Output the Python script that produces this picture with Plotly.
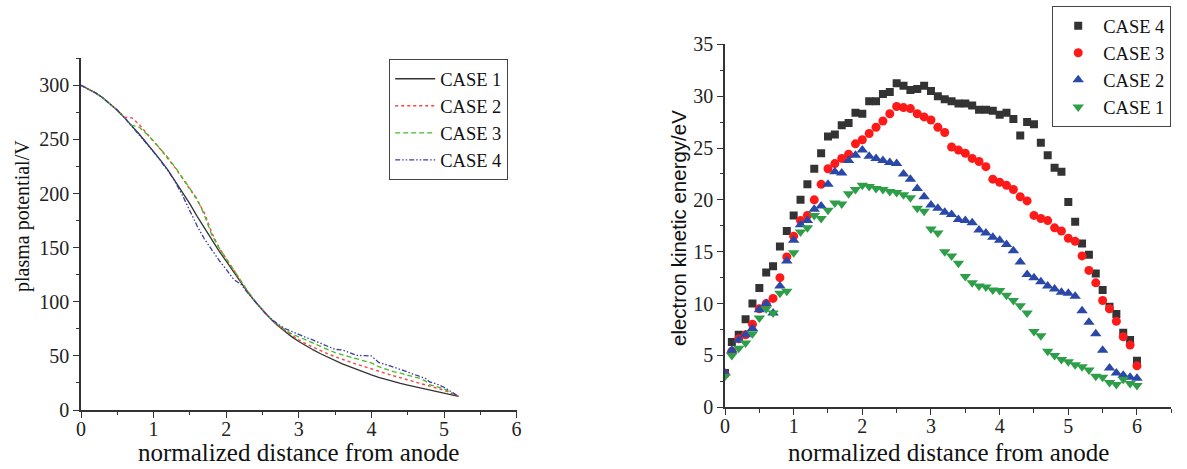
import plotly.graph_objects as go

# ---------------- Left panel: plasma potential ----------------
x_c1 = [0.0, 0.1, 0.2, 0.3, 0.4, 0.5, 0.6, 0.7, 0.8, 0.9, 1.0, 1.1, 1.2, 1.3, 1.4, 1.5, 1.6, 1.7, 1.8, 1.9,
        2.0, 2.1, 2.2, 2.3, 2.4, 2.5, 2.6, 2.7, 2.8, 2.9, 3.0, 3.1, 3.2, 3.3, 3.4, 3.5, 3.6, 3.7, 3.8, 3.9,
        4.0, 4.1, 4.2, 4.3, 4.4, 4.5, 4.6, 4.7, 4.8, 4.9, 5.0, 5.1, 5.2]
v_c1 = [300, 296.8, 293, 288.5, 283, 277, 270, 262.8, 255, 247, 239, 230.5, 221.5, 211.5, 201.5, 190.5, 179, 168,
        157, 147, 137.5, 127.5, 117.5, 108.5, 100, 92, 85, 78.5, 73, 67.8, 63.3, 59.2, 55.5, 52, 48.8, 45.6,
        42.7, 40, 37.3, 34.8, 32.4, 30.2, 28.2, 26.3, 24.6, 23, 21.4, 19.8, 18.3, 16.8, 15.4, 13.9, 12.5]

x_c2 = [0.0, 0.1, 0.2, 0.3, 0.4, 0.5, 0.6, 0.7, 0.8, 0.9, 1.0, 1.1, 1.2, 1.3, 1.4, 1.5, 1.6, 1.7, 1.8, 1.9,
        2.0, 2.1, 2.2, 2.3, 2.4, 2.5, 2.6, 2.7, 2.8, 2.9, 3.0, 3.1, 3.2, 3.3, 3.4, 3.5, 3.6, 3.7, 3.8, 3.9,
        4.0, 4.1, 4.2, 4.3, 4.4, 4.5, 4.6, 4.7, 4.8, 4.9, 5.0, 5.1, 5.2]
v_c2 = [300, 296.8, 293, 288.5, 283, 277, 270.5, 270, 264, 255.5, 248, 240.5, 232.5, 223.5, 214, 204, 194, 182,
        164, 150, 139.5, 129, 118.5, 109, 100.5, 92.5, 85, 79, 74, 69, 64.8, 61, 57.8, 54.7, 51.8, 49.3,
        46.8, 44.5, 42.2, 40.2, 38.3, 36, 33.8, 31.7, 29.7, 27.8, 26, 24.2, 22.2, 20.3, 18.3, 15.5, 12.7]

x_c3 = [0.0, 0.1, 0.2, 0.3, 0.4, 0.5, 0.6, 0.7, 0.8, 0.9, 1.0, 1.1, 1.2, 1.3, 1.4, 1.5, 1.6, 1.7, 1.8, 1.9,
        2.0, 2.1, 2.2, 2.3, 2.4, 2.5, 2.6, 2.7, 2.8, 2.9, 3.0, 3.1, 3.2, 3.3, 3.4, 3.5, 3.6, 3.7, 3.8, 3.9,
        4.0, 4.1, 4.2, 4.3, 4.4, 4.5, 4.6, 4.7, 4.75, 4.8, 4.9, 5.0, 5.1, 5.2]
v_c3 = [300, 296.8, 293, 288.5, 283, 277, 270, 263, 261.5, 255.5, 248.5, 241, 233, 224, 214.5, 205, 195, 180,
        162, 150, 140, 129.5, 119, 109.5, 100.5, 92.5, 85, 79.5, 74.5, 70.5, 67.5, 64.5, 61.5, 58.5, 55.5, 53,
        51, 49, 47, 45, 43.5, 40, 37.5, 35.5, 34, 32.5, 30.5, 28.5, 26.5, 23.5, 21.5, 19.5, 16, 12.7]

x_c4 = [0.0, 0.1, 0.2, 0.3, 0.4, 0.5, 0.6, 0.7, 0.8, 0.9, 1.0, 1.1, 1.2, 1.3, 1.4, 1.5, 1.6, 1.7, 1.8, 1.9,
        2.0, 2.1, 2.15, 2.2, 2.3, 2.4, 2.5, 2.6, 2.7, 2.8, 2.9, 3.0, 3.1, 3.2, 3.3, 3.4, 3.5, 3.6, 3.7, 3.8,
        3.9, 4.0, 4.05, 4.1, 4.2, 4.3, 4.4, 4.5, 4.6, 4.7, 4.75, 4.8, 4.9, 5.0, 5.1, 5.2]
v_c4 = [300, 296.8, 293, 288.5, 283, 277, 270, 262.5, 254.5, 246.5, 238.5, 230, 221, 210.5, 198, 184, 170, 158,
        148, 138.5, 130, 121, 118.5, 116.5, 108, 100, 92, 85.5, 80, 75.5, 72.5, 70, 67, 64.5, 61.5, 58.5,
        56, 55.5, 53, 50.5, 50.2, 50, 47, 44, 42, 40, 37.5, 35, 32.5, 30.5, 29, 26, 24, 21, 17, 12.7]

# ---------------- Right panel: electron kinetic energy ----------------
x_ke = [round(i * 0.1, 1) for i in range(61)]
ke_c4 = [3.3, 6.3, 7.0, 8.5, 10.0, 11.5, 13.0, 13.6, 15.5, 17.0, 18.5, 20.0, 21.5, 23.0, 24.5, 26.1, 26.3, 27.2,
         27.4, 28.4, 28.3, 29.5, 29.5, 30.2, 30.4, 31.25, 31.0, 30.6, 30.7, 31.0, 30.5, 30.0, 29.7, 29.5, 29.3,
         29.3, 29.1, 28.7, 28.7, 28.6, 28.2, 28.4, 27.8, 26.2, 27.5, 27.3, 25.5, 24.3, 23.1, 22.7, 19.8, 17.9,
         15.8, 14.7, 12.9, 11.3, 9.7, 9.0, 7.2, 6.5, 4.5]
ke_c3 = [3.2, 5.4, 6.6, 7.0, 8.0, 9.5, 10.0, 10.5, 12.5, 14.5, 16.5, 18.0, 18.5, 20.0, 21.5, 23.0, 23.5, 24.0,
         24.4, 25.4, 25.8, 26.4, 27.0, 27.6, 28.3, 29.0, 28.9, 28.8, 28.3, 28.0, 27.7, 27.0, 26.5, 25.1, 24.8,
         24.5, 24.0, 23.7, 23.2, 22.0, 21.7, 21.4, 21.0, 20.3, 19.9, 18.5, 18.2, 18.0, 17.3, 17.0, 16.3, 16.0,
         14.6, 13.2, 12.0, 10.3, 9.5, 8.3, 6.8, 6.0, 4.0]
ke_c2 = [3.3, 5.5, 6.5, 7.0, 7.6, 9.4, 10.0, 9.1, 11.7, 14.1, 16.1, 17.6, 18.0, 19.1, 19.4, 21.5, 22.7, 22.6,
         23.8, 24.3, 24.8, 24.2, 24.0, 23.8, 23.6, 23.5, 22.5, 22.0, 21.1, 20.3, 19.5, 19.2, 18.8, 18.6, 18.1,
         18.0, 17.8, 17.1, 16.8, 16.4, 16.1, 15.7, 15.1, 14.0, 12.8, 12.5, 12.1, 11.7, 11.4, 11.1, 11.0, 10.7,
         9.3, 8.2, 7.1, 5.5, 3.8, 3.3, 3.1, 2.9, 2.8]
ke_c1 = [3.0, 5.0, 5.7, 6.2, 7.1, 8.6, 9.5, 9.1, 11.0, 11.2, 14.9, 16.9, 17.3, 18.5, 18.2, 19.0, 19.7, 19.6,
         20.6, 21.0, 21.4, 21.3, 21.1, 21.0, 20.8, 20.7, 20.5, 20.2, 19.2, 18.9, 17.2, 16.8, 15.0, 14.6, 13.9,
         12.6, 12.0, 11.7, 11.6, 11.3, 11.25, 10.8, 10.3, 9.8, 9.1, 7.3, 6.9, 5.4, 5.0, 4.6, 4.4, 4.1, 3.9, 3.6,
         3.0, 2.9, 2.4, 2.2, 2.7, 2.3, 2.1]

case_names = ["CASE 1", "CASE 2", "CASE 3", "CASE 4"]

SERIF = "Liberation Serif, Times New Roman, serif"
SANS = "Liberation Sans, Arial, sans-serif"
AX = "#333333"

fig = go.Figure()

line_styles = [
    (x_c1, v_c1, case_names[0], "#333333", "solid", 1.3),
    (x_c2, v_c2, case_names[1], "#ff4040", "dot", 1.4),
    (x_c3, v_c3, case_names[2], "#44bb22", "5px,3px", 1.3),
    (x_c4, v_c4, case_names[3], "#3a3aa8", "5px,2px,1.5px,2px,1.5px,2px", 1.3),
]
for xs, ys, nm, col, dash, w in line_styles:
    fig.add_trace(go.Scatter(x=xs, y=ys, name=nm, mode="lines",
                             line=dict(color=col, dash=dash, width=w),
                             xaxis="x", yaxis="y", legend="legend"))

marker_styles = [
    (ke_c4, case_names[3], "#333333", "square", 8),
    (ke_c3, case_names[2], "#ff1a1a", "circle", 9),
    (ke_c2, case_names[1], "#2a48a8", "triangle-up", 10),
    (ke_c1, case_names[0], "#2e9e48", "triangle-down", 10),
]
for ys, nm, col, sym, sz in marker_styles:
    fig.add_trace(go.Scatter(x=x_ke, y=ys, name=nm, mode="markers",
                             marker=dict(color=col, symbol=sym, size=sz, line=dict(width=0)),
                             xaxis="x2", yaxis="y2", legend="legend2"))

W, H = 1187, 469

def axis_common():
    return dict(showline=True, linecolor=AX, linewidth=1.5, mirror=False, showgrid=False, zeroline=False,
                automargin=False,
                ticks="outside", ticklen=6, tickwidth=1.3, tickcolor=AX,
                tickfont=dict(family=SERIF, size=20, color="#222222"),
                minor=dict(ticks="outside", ticklen=3.5, tickwidth=1.2, tickcolor=AX, showgrid=False))

xa = axis_common(); xa.update(domain=[81 / W, 516.6 / W], range=[0, 6], dtick=1, tick0=0, anchor="y",
                              ticklabelstandoff=-6)
xa["minor"].update(dtick=0.5)
ya = axis_common(); ya.update(domain=[1 - 410 / H, 1 - 58.3 / H], range=[0, 325], dtick=50, tick0=0, anchor="x")
ya["minor"].update(dtick=25)
xa2 = axis_common(); xa2.update(domain=[725 / W, 1171.3 / W], range=[0, 6.5], dtick=1, tick0=0, anchor="y2",
                                ticklabelstandoff=-6)
xa2["minor"].update(dtick=0.5)
ya2 = axis_common(); ya2.update(domain=[1 - 407.3 / H, 1 - 44.3 / H], range=[0, 35], dtick=5, tick0=0, anchor="x2")
ya2["minor"].update(dtick=2.5)

fig.update_layout(
    width=W, height=H,
    margin=dict(l=0, r=0, t=0, b=0, autoexpand=False),
    paper_bgcolor="white", plot_bgcolor="white",
    xaxis=xa, yaxis=ya, xaxis2=xa2, yaxis2=ya2,
    legend=dict(x=389 / W, y=1 - 59 / H, xanchor="left", yanchor="top",
                bgcolor="white", bordercolor="#444444", borderwidth=1.2,
                font=dict(family=SERIF, size=18.5, color="#111111"),
                tracegroupgap=0, itemwidth=40),
    legend2=dict(x=1052 / W, y=1 - 6 / H, xanchor="left", yanchor="top",
                 bgcolor="white", bordercolor="#444444", borderwidth=1.2,
                 font=dict(family=SERIF, size=18.5, color="#111111"),
                 tracegroupgap=0, itemwidth=40),
    showlegend=True,
    annotations=[
        dict(text="normalized distance from anode", x=298.5 / W, y=1 - 452 / H, xref="paper", yref="paper",
             showarrow=False, font=dict(family=SERIF, size=25, color="#111111"), xanchor="center", yanchor="middle"),
        dict(text="plasma potential/V", x=22 / W, y=1 - 216 / H, xref="paper", yref="paper", textangle=-90,
             showarrow=False, font=dict(family=SERIF, size=20, color="#111111"), xanchor="center", yanchor="middle"),
        dict(text="normalized distance from anode", x=948 / W, y=1 - 452 / H, xref="paper", yref="paper",
             showarrow=False, font=dict(family=SERIF, size=25, color="#111111"), xanchor="center", yanchor="middle"),
        dict(text="electron kinetic energy/eV", x=678 / W, y=1 - 228 / H, xref="paper", yref="paper", textangle=-90,
             showarrow=False, font=dict(family=SANS, size=20.5, color="#111111"), xanchor="center", yanchor="middle"),
    ],
)

fig.write_html("out.html", config={"displayModeBar": False},
               post_script="document.body.style.margin='0px';document.body.style.overflow='hidden';")
